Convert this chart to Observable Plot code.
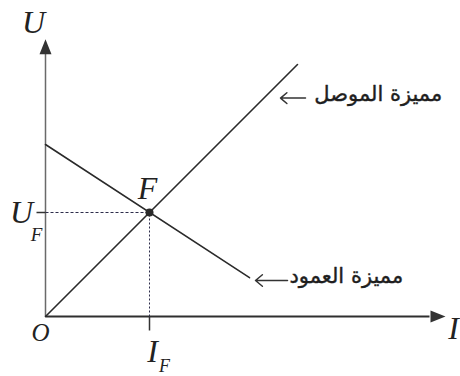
<!DOCTYPE html>
<html>
<head>
<meta charset="utf-8">
<script src="https://cdn.jsdelivr.net/npm/d3@7"></script>
<script src="https://cdn.jsdelivr.net/npm/@observablehq/plot@0.6"></script>
<style>
  html, body { margin: 0; padding: 0; background: #ffffff; }
  #chart svg { display: block; }
</style>
</head>
<body>
<div id="chart"></div>
<script>
// --- data (I in arbitrary units, U in arbitrary units) ---
const conductorI = [0, 6.3];          // characteristic of the conductor (through origin)
const conductorU = [0, 6.3];
const pileI = [0, 5.1];               // characteristic of the cell (battery)
const pileU = [4.3, 0.97];
const pointF = [{I: 2.6, U: 2.6}];    // operating point F
const axisMaxI = 10;
const axisMaxU = 6.93;
const curveLabels = ["مميزة الموصل", "مميزة العمود"];
const labelI = [6.72, 6.1];
const labelU = [5.55, 1.0];
const arrowFromI = [6.5, 6.05];
const arrowToI = [5.875, 5.25];
const arrowU = [5.46, 0.9];

const conductor = conductorI.map((v, i) => ({I: v, U: conductorU[i]}));
const pile = pileI.map((v, i) => ({I: v, U: pileU[i]}));
const labels = curveLabels.map((t, i) => ({t, I: labelI[i], U: labelU[i]}));
const arrows = curveLabels.map((t, i) => ({x1: arrowFromI[i], x2: arrowToI[i], y: arrowU[i]}));

const head = {
  draw(ctx) { ctx.moveTo(0, 0); ctx.lineTo(6, 15); ctx.lineTo(-6, 15); ctx.closePath(); }
};

const serif = "'Liberation Serif', 'DejaVu Serif', serif";

const chart = Plot.plot({
  width: 460,
  height: 376,
  marginLeft: 45,
  marginRight: 15,
  marginTop: 36,
  marginBottom: 60,
  x: {domain: [0, axisMaxI], axis: null},
  y: {domain: [0, 7], axis: null},
  style: {background: "#ffffff", overflow: "visible"},
  marks: [
    // axes
    Plot.link([0], {x1: 0, y1: 0, x2: 0, y2: axisMaxU - 0.3, stroke: "#6a6a6a", strokeWidth: 1.5}),
    Plot.link([0], {x1: 0, y1: 0, x2: axisMaxI - 0.4, y2: 0, stroke: "#2f2f2f", strokeWidth: 2}),
    Plot.dot([0], {x: 0, y: axisMaxU, symbol: head, fill: "#333", stroke: "none", r: 5}),
    Plot.dot([0], {x: axisMaxI, y: 0, symbol: head, fill: "#333", stroke: "none", r: 5, rotate: 90}),
    // dashed projections of F
    Plot.link(pointF, {x1: 0, y1: "U", x2: "I", y2: "U", stroke: "#2d2d4a", strokeWidth: 1, strokeDasharray: "3,2"}),
    Plot.link(pointF, {x1: "I", y1: 0, x2: "I", y2: "U", stroke: "#2d2d4a", strokeWidth: 1, strokeDasharray: "2,2"}),
    // ticks
    Plot.link(pointF, {x1: -0.225, x2: 0, y1: "U", y2: "U", stroke: "#333", strokeWidth: 1.5}),
    Plot.link(pointF, {x1: "I", x2: "I", y1: 0, y2: -0.35, stroke: "#333", strokeWidth: 1.5}),
    // characteristics
    Plot.line(conductor, {x: "I", y: "U", stroke: "#2a2a2a", strokeWidth: 1.6}),
    Plot.line(pile, {x: "I", y: "U", stroke: "#2a2a2a", strokeWidth: 1.6}),
    Plot.dot(pointF, {x: "I", y: "U", r: 4, fill: "#2a2a2a"}),
    // arrows to curves
    Plot.arrow(arrows, {x1: "x1", y1: "y", x2: "x2", y2: "y", stroke: "#333", strokeWidth: 1.5, headLength: 9, headAngle: 80}),
    Plot.text(labels, {x: "I", y: "U", text: "t", textAnchor: "start", fontSize: 21, fontWeight: "normal", fill: "#1e1e1e", stroke: "#1e1e1e", strokeWidth: 0.4, fontFamily: "'DejaVu Sans', sans-serif"}),
    // math labels
    Plot.text(["U"], {x: -0.3, y: 7.35, text: d => d, fontSize: 32, fontStyle: "italic", fontFamily: serif, fill: "#222"}),
    Plot.text(["I"], {x: 10.2, y: -0.3, text: d => d, fontSize: 32, fontStyle: "italic", fontFamily: serif, fill: "#222"}),
    Plot.text(["O"], {x: -0.125, y: -0.42, text: d => d, fontSize: 25, fontStyle: "italic", fontFamily: serif, fill: "#222"}),
    Plot.text(["F"], {x: 2.55, y: 3.2, text: d => d, fontSize: 32, fontStyle: "italic", fontFamily: serif, fill: "#222"}),
    Plot.text(["U"], {x: -0.6, y: 2.6, text: d => d, fontSize: 32, fontStyle: "italic", fontFamily: serif, fill: "#222"}),
    Plot.text(["F"], {x: -0.225, y: 2.05, text: d => d, fontSize: 19, fontStyle: "italic", fontFamily: serif, fill: "#222"}),
    Plot.text(["I"], {x: 2.675, y: -0.875, text: d => d, fontSize: 32, fontStyle: "italic", fontFamily: serif, fill: "#222"}),
    Plot.text(["F"], {x: 2.975, y: -1.24, text: d => d, fontSize: 18, fontStyle: "italic", fontFamily: serif, fill: "#222"})
  ]
});
document.getElementById("chart").appendChild(chart);
</script>
</body>
</html>
